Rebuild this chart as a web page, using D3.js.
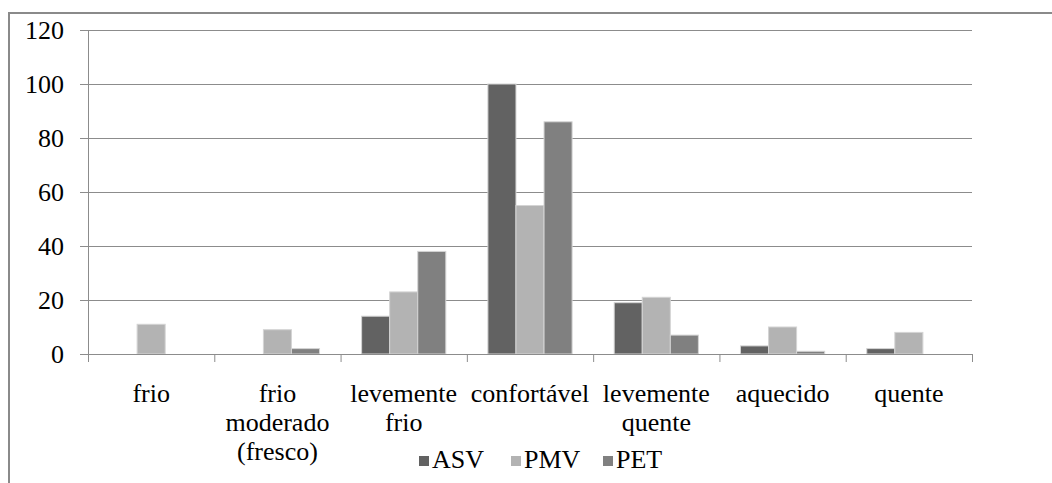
<!DOCTYPE html>
<html>
<head>
<meta charset="utf-8">
<script src="https://cdn.jsdelivr.net/npm/d3@7"></script>
<style>
    body { margin: 0; background: #fff; }
    #chart text { font-family: 'Liberation Serif', 'Times New Roman', Tinos, 'DejaVu Serif', serif; }
</style>
</head>
<body>
<svg id="chart"></svg>
<script>
var categories = [
    ['frio'],
    ['frio', 'moderado', '(fresco)'],
    ['levemente', 'frio'],
    ['confortável'],
    ['levemente', 'quente'],
    ['aquecido'],
    ['quente'],
];
var seriesNames = ['ASV', 'PMV', 'PET'];
var asv = [0, 0, 14, 100, 19, 3, 2];
var pmv = [11, 9, 23, 55, 21, 10, 8];
var pet = [0, 2, 38, 86, 7, 1, 0];
var yTicks = [0, 20, 40, 60, 80, 100, 120];

var colors = { ASV: '#626262', PMV: '#b3b3b3', PET: '#808080' };
var lineColor = '#8c8c8c';
var serif = "'Liberation Serif', 'Times New Roman', 'DejaVu Serif', serif";

var W = 1052, H = 483;
var plotLeft = 88, plotRight = 972, plotTop = 30, plotBottom = 354;

var svg = d3.select('svg#chart')
    .attr('width', W)
    .attr('height', H)
    .attr('font-family', serif)
    .attr('font-size', 26) ;

// outer frame (right and bottom edges are off the picture)
svg.append('path')
    .attr('d', 'M9,' + H + 'V13H' + (W + 5))
    .attr('fill', 'none')
    .attr('stroke', '#8a8a8a')
    .attr('stroke-width', 2) ;

var keys = categories.map(function (c, i) { return String(i); });

var x0 = d3.scaleBand()
    .domain(keys)
    .range([plotLeft, plotRight]) ;

var x1 = d3.scaleBand()
    .domain(seriesNames)
    .range([x0.bandwidth() / 6, x0.bandwidth() * 5 / 6]) ;

var xEdge = d3.scaleLinear()
    .domain([0, categories.length])
    .range([plotLeft, plotRight]) ;

var y = d3.scaleLinear()
    .domain([0, 120])
    .range([plotBottom, plotTop]) ;

// gridlines
var grid = svg.append('g')
    .attr('transform', 'translate(' + plotLeft + ',0)')
    .call(d3.axisLeft(y).tickValues(yTicks).tickSize(-(plotRight - plotLeft)).tickFormat('')) ;
grid.select('.domain').remove();
grid.selectAll('line').attr('stroke', lineColor);

// value axis
var yAxis = svg.append('g')
    .attr('transform', 'translate(' + plotLeft + ',0)')
    .call(d3.axisLeft(y).tickValues(yTicks).tickSizeInner(8).tickSizeOuter(0).tickPadding(16)) ;
yAxis.attr('font-family', serif).attr('font-size', 26);
yAxis.select('.domain').attr('stroke', lineColor);
yAxis.selectAll('line').attr('stroke', lineColor);
yAxis.selectAll('text').attr('fill', '#000');

// bars
var rows = keys.map(function (k, i) {
    return { key: k, values: [asv[i], pmv[i], pet[i]] };
});

var groups = svg.append('g').selectAll('g.cat')
    .data(rows)
    .enter().append('g')
    .classed('cat', true)
    .attr('transform', function (d) { return 'translate(' + x0(d.key) + ',0)'; }) ;

groups.selectAll('rect')
    .data(function (d) {
        return d.values.map(function (v, j) { return { name: seriesNames[j], value: v }; });
    })
    .enter().append('rect')
    .filter(function (d) { return d.value > 0; })
    .attr('x', function (d) { return x1(d.name); })
    .attr('width', x1.bandwidth())
    .attr('y', function (d) { return y(d.value); })
    .attr('height', function (d) { return plotBottom - y(d.value); })
    .attr('fill', function (d) { return colors[d.name]; })
    .attr('stroke', '#d4d4d4')
    .attr('stroke-width', 1) ;

// category axis
var xAxis = svg.append('g')
    .attr('transform', 'translate(0,' + plotBottom + ')')
    .call(d3.axisBottom(xEdge).ticks(categories.length).tickSizeInner(8).tickSizeOuter(0).tickFormat('')) ;
xAxis.select('.domain').attr('stroke', lineColor);
xAxis.selectAll('line').attr('stroke', lineColor);

var labels = svg.append('g').selectAll('text.cat')
    .data(categories)
    .enter().append('text')
    .classed('cat', true)
    .attr('text-anchor', 'middle')
    .attr('transform', function (d, i) {
        return 'translate(' + (x0(keys[i]) + x0.bandwidth() / 2) + ',402)';
    }) ;
labels.selectAll('tspan')
    .data(function (d) { return d; })
    .enter().append('tspan')
    .attr('x', 0)
    .attr('y', function (d, i) { return i * 29; })
    .text(function (d) { return d; }) ;

// legend
var legend = svg.append('g').selectAll('g.legend')
    .data(seriesNames)
    .enter().append('g')
    .classed('legend', true)
    .attr('transform', function (d, i) { return 'translate(' + (419 + i * 92) + ',468)'; }) ;
legend.append('rect')
    .attr('x', 0)
    .attr('y', -12)
    .attr('width', 10)
    .attr('height', 10)
    .attr('fill', function (d) { return colors[d]; }) ;
legend.append('text')
    .attr('x', 13)
    .attr('y', 0)
    .text(function (d) { return d; }) ;
</script>
</body>
</html>
